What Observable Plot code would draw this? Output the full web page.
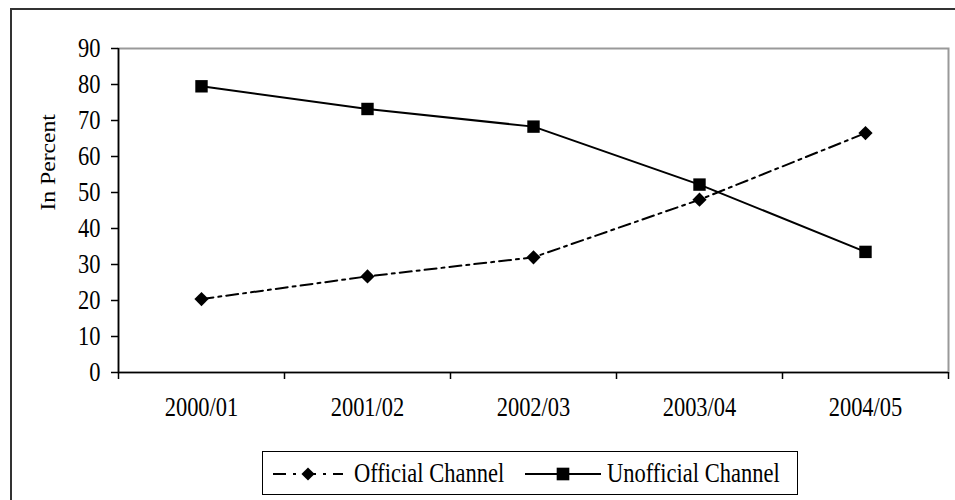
<!DOCTYPE html>
<html>
<head>
<meta charset="utf-8">
<script src="https://cdn.jsdelivr.net/npm/d3@7"></script>
<script src="https://cdn.jsdelivr.net/npm/@observablehq/plot@0.6"></script>
<style>
  html, body { margin: 0; padding: 0; background: #fff; }
  #wrap { position: relative; width: 955px; height: 500px; overflow: hidden; background: #fff; font-family: "Liberation Serif", serif; }
  #border { position: absolute; left: 10px; top: 8px; width: 1000px; height: 600px; border: 2px solid #333; box-sizing: border-box; }
  #chart { position: absolute; left: 0; top: 0; }
  #legend { position: absolute; left: 262px; top: 451px; width: 536px; height: 44px; border: 1.5px solid #000; box-sizing: border-box; }
  .lg { position: absolute; font-size: 22.5px; line-height: 1; white-space: nowrap; transform: scaleY(1.18); transform-origin: 0 50%; color: #000; }
  .sw { position: absolute; }
</style>
</head>
<body>
<div id="wrap">
  <div id="border"></div>
  <div id="chart"></div>
  <div id="legend"></div>
</div>
<script>
const periods = ["2000/01", "2001/02", "2002/03", "2003/04", "2004/05"];
const official = [20.4, 26.7, 32.0, 48.0, 66.5];
const unofficial = [79.5, 73.2, 68.3, 52.2, 33.5];
const yTicks = [0, 10, 20, 30, 40, 50, 60, 70, 80, 90];
const seriesNames = ["Official Channel", "Unofficial Channel"];

const offData = periods.map((p, i) => ({period: p, xi: i + 0.5, v: official[i]}));
const unoffData = periods.map((p, i) => ({period: p, xi: i + 0.5, v: unofficial[i]}));
const centers = periods.map((_, i) => i + 0.5);
const edges = d3.range(0, periods.length + 1);
const dash = "12,5,3,5";

const chart = Plot.plot({
  width: 955,
  height: 440,
  marginLeft: 118,
  marginTop: 48,
  marginRight: 7,
  marginBottom: 68,
  x: {domain: [0, periods.length], axis: null},
  y: {domain: [0, 90], axis: null},
  style: {fontFamily: "Liberation Serif", fontSize: "22.5px", color: "#000", background: "transparent", overflow: "visible"},
  marks: [
    Plot.frame({stroke: "#999", strokeWidth: 2}),
    Plot.ruleX([0], {stroke: "#000", strokeWidth: 1.6}),
    Plot.ruleY([0], {stroke: "#000", strokeWidth: 1.6}),
    Plot.axisY({ticks: yTicks, tickSize: 7, tickPadding: 11, label: null, strokeWidth: 1.5, tickFormat: d => String(d)}),
    Plot.axisX({ticks: edges, tickSize: 7, tickFormat: () => "", label: null, strokeWidth: 1.5}),
    Plot.axisX({ticks: centers, tickSize: 0, tickPadding: 25, label: null, tickFormat: d => periods[Math.round(d - 0.5)]}),
    Plot.text(["In Percent"], {frameAnchor: "left", rotate: -90, dx: -70, fontSize: 20, fill: "#000"}),
    Plot.line(offData, {x: "xi", y: "v", stroke: "#000", strokeWidth: 2, strokeDasharray: dash}),
    Plot.line(unoffData, {x: "xi", y: "v", stroke: "#000", strokeWidth: 2}),
    Plot.dot(offData, {x: "xi", y: "v", symbol: "diamond2", r: 6.4, fill: "#000", stroke: "none"}),
    Plot.dot(unoffData, {x: "xi", y: "v", symbol: "square", r: 7, fill: "#000", stroke: "none"})
  ]
});

// stretch glyphs vertically like the reference rendering
const k = 1.18;
chart.querySelectorAll("text").forEach(t => {
  let tr = t.getAttribute("transform");
  if (!tr) {
    const x = t.getAttribute("x") || 0, y = t.getAttribute("y") || 0;
    t.removeAttribute("x"); t.removeAttribute("y");
    tr = `translate(${x},${y})`;
  }
  if (/rotate/.test(tr)) tr += ` scale(${k},1)`;
  else tr += ` scale(1,${k})`;
  t.setAttribute("transform", tr);
});
document.getElementById("chart").appendChild(chart);

// legend
const legend = document.getElementById("legend");
const L = 262, T = 451;
function sample(left, w, symbol, dashed) {
  const svg = d3.create("svg").attr("class", "sw").attr("width", w).attr("height", 16)
    .style("left", (left - L) + "px").style("top", (473 - T - 8) + "px");
  svg.append("line").attr("x1", 0).attr("x2", w).attr("y1", 8).attr("y2", 8)
    .attr("stroke", "#000").attr("stroke-width", 2).attr("stroke-dasharray", dashed ? "13,7,3,7" : null);
  svg.append("path").attr("transform", `translate(${w / 2},8)`)
    .attr("d", d3.symbol(symbol === "square" ? d3.symbolSquare : d3.symbolDiamond2, symbol === "square" ? 160 : 110)())
    .attr("fill", "#000");
  legend.appendChild(svg.node());
}
function label(left, text) {
  const s = document.createElement("div");
  s.className = "lg";
  s.textContent = text;
  s.style.left = (left - L) + "px";
  s.style.top = (473 - T - 11) + "px";
  legend.appendChild(s);
}
sample(272, 70, "diamond", true);
label(353, seriesNames[0]);
sample(524, 76, "square", false);
label(606, seriesNames[1]);
</script>
</body>
</html>
